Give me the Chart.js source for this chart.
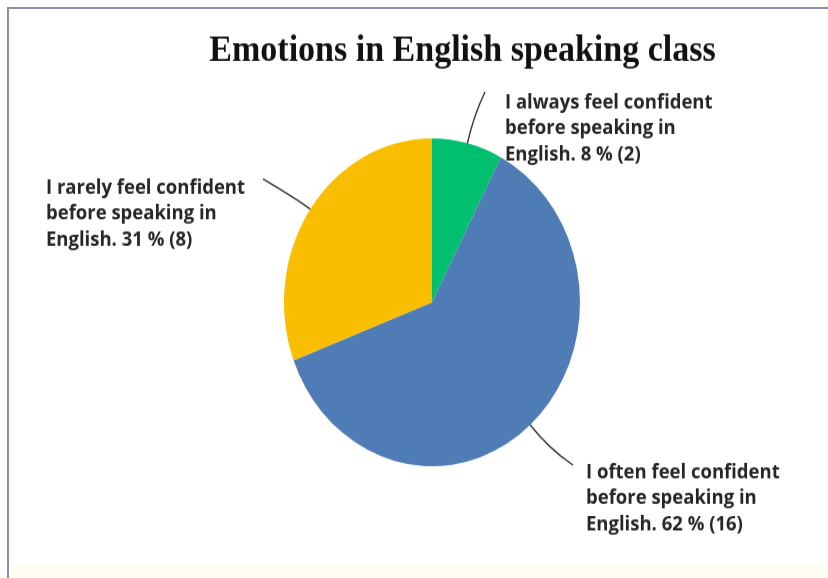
<!DOCTYPE html>
<html>
<head>
<meta charset="utf-8">
<script src="https://cdn.jsdelivr.net/npm/chart.js@4/dist/chart.umd.min.js"></script>
<style>
  html, body { margin: 0; padding: 0; background: #ffffff; }
  body { width: 828px; height: 578px; position: relative; overflow: hidden; }
  #frame {
    position: absolute; left: 7px; top: 7px; right: -4px; bottom: -4px;
    border-left: 2px solid #8a90b8; border-top: 2px solid #8a90b8;
  }
  #foot { position: absolute; left: 9px; right: 0; bottom: 0; height: 13px; background: #fffcf1; }
  #stage {
    position: absolute; left: 0; top: 0; width: 828px; height: 522px;
    transform-origin: 0 0; transform: scaleY(1.1073);
  }
</style>
</head>
<body>
<div id="foot"></div>
<div id="frame"></div>
<div id="stage"><canvas id="pie" width="828" height="522"></canvas></div>
<script>
// Survey answers: how often students feel confident before speaking English
const chartTitle = 'Emotions in English speaking class';
const categories = [
  ['I always feel confident', 'before speaking in', 'English.'],
  ['I often feel confident', 'before speaking in', 'English.'],
  ['I rarely feel confident', 'before speaking in', 'English.']
];
const responses = [2, 16, 8];
const sliceColors = ['#00bf6f', '#507cb6', '#f9be00'];

const total = responses.reduce((a, b) => a + b, 0);

// Callout placement for each slice: text block origin, leader line end, and
// how far the leader leaves the rim before bending toward its text
const callouts = [
  { textX: 505, textY: 97.8, endX: 485, endY: 83, reach: 25 },
  { textX: 586, textY: 431.7, endX: 573, endY: 420, reach: 30 },
  { textX: 46, textY: 174.6, endX: 263, endY: 161.7, reach: 15 }
];

const calloutPlugin = {
  id: 'callouts',
  afterDraw(chart) {
    const ctx = chart.ctx;
    // Title
    ctx.save();
    ctx.fillStyle = '#111111';
    ctx.font = 'bold 34px "Liberation Serif", "Times New Roman", serif';
    ctx.textAlign = 'center';
    ctx.textBaseline = 'alphabetic';
    ctx.fillText(chartTitle, 462.5, 55);
    ctx.restore();

    const meta = chart.getDatasetMeta(0);
    meta.data.forEach((arc, i) => {
      const p = arc.getProps(['x', 'y', 'startAngle', 'endAngle', 'outerRadius'], true);
      const mid = (p.startAngle + p.endAngle) / 2;
      const dx = Math.cos(mid), dy = Math.sin(mid);
      const ex = p.x + p.outerRadius * dx, ey = p.y + p.outerRadius * dy;
      const c = callouts[i];
      const cx = ex + c.reach * dx, cy = ey + c.reach * dy;

      ctx.save();
      ctx.strokeStyle = '#333333';
      ctx.lineWidth = 1.4;
      ctx.beginPath();
      ctx.moveTo(ex, ey);
      ctx.quadraticCurveTo(cx, cy, c.endX, c.endY);
      ctx.stroke();

      const pct = Math.round(responses[i] / total * 100);
      const lines = categories[i].slice();
      lines[lines.length - 1] += ' ' + pct + ' % (' + responses[i] + ')';
      ctx.fillStyle = '#262626';
      ctx.font = 'bold 18.5px "Open Sans", "Noto Sans", sans-serif';
      ctx.textAlign = 'left';
      ctx.textBaseline = 'alphabetic';
      lines.forEach((ln, k) => ctx.fillText(ln, c.textX, c.textY + k * 23.5));
      ctx.restore();
    });
  }
};

new Chart(document.getElementById('pie'), {
  type: 'pie',
  data: {
    labels: categories.map(l => l.join(' ')),
    datasets: [{
      data: responses,
      backgroundColor: sliceColors,
      borderWidth: 0
    }]
  },
  options: {
    responsive: false,
    animation: false,
    events: [],
    layout: { padding: { top: 125, bottom: 101, left: 100, right: 64 } },
    plugins: {
      legend: { display: false },
      title: { display: false },
      tooltip: { enabled: false }
    }
  },
  plugins: [calloutPlugin]
});
</script>
</body>
</html>
